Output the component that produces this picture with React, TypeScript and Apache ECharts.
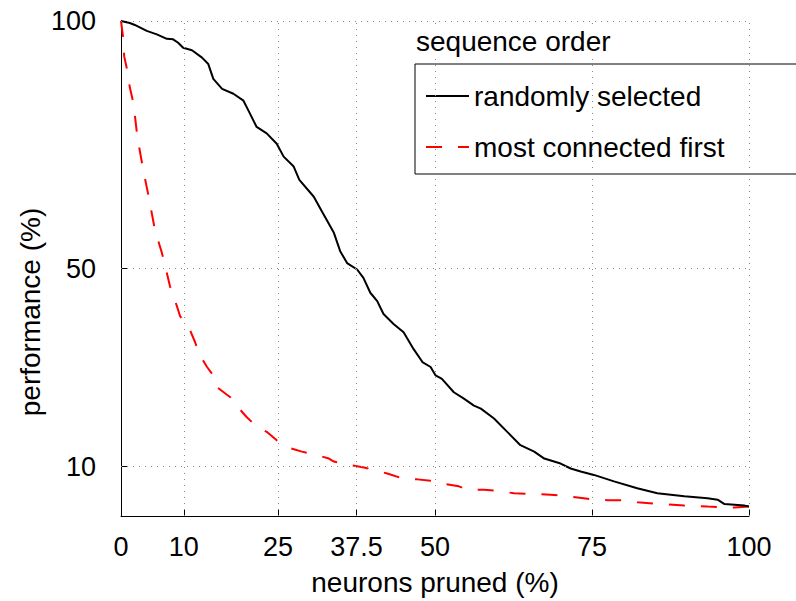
import React, { useEffect, useRef } from "react";
import * as echarts from "echarts";

const xTicks = [0, 10, 25, 37.5, 50, 75, 100];
const yTicks = [10, 50, 100];
const xGrid = [10, 25, 37.5, 50, 75, 100];
const yGrid = [10, 50, 100];

const seriesNames = ["randomly selected", "most connected first"];
const legendTitle = "sequence order";
const xName = "neurons pruned (%)";
const yName = "performance (%)";

const randomlySelected: [number, number][] = [
  [0, 100], [1.4, 99.6], [2.2, 99.2], [4.1, 98.0], [5.7, 97.3], [7.3, 96.4], [8.3, 96.3],
  [9.1, 95.6], [9.9, 94.6], [11.3, 94.1], [12.9, 92.6], [13.9, 91.3], [14.7, 88.3],
  [16.1, 86.3], [17.9, 85.3], [19.5, 83.9], [20.3, 81.9], [21.6, 78.6], [23.2, 77.3],
  [24.8, 75.2], [25.9, 72.6], [27.5, 70.6], [28.4, 67.9], [30.7, 64.5], [32.0, 61.5],
  [33.9, 57.2], [34.9, 53.5], [36.0, 51.1], [37.6, 49.8], [38.6, 48.1], [39.7, 45.1],
  [40.8, 43.4], [41.8, 40.8], [43.4, 38.8], [45.0, 37.1], [46.6, 33.7], [48.0, 31.1],
  [49.3, 30.1], [50.1, 28.4], [51.1, 27.7], [53.0, 25.0], [54.6, 23.7], [56.2, 22.3],
  [57.3, 21.7], [59.4, 19.7], [61.5, 17.0], [63.6, 14.3], [65.8, 13.0], [67.4, 11.6],
  [70.0, 10.6], [71.6, 9.6], [73.2, 9.0], [75.3, 8.3], [78.5, 7.0], [82.2, 5.6],
  [85.4, 4.6], [89.7, 4.0], [93.4, 3.6], [95.0, 3.3], [96.1, 2.4], [99.3, 2.1], [100, 1.9],
];

const mostConnectedFirst: [number, number][] = [
  [0, 100], [0.4, 96.1], [0.5, 92.9], [1.0, 90.0], [1.4, 86.6], [2.0, 83.3], [2.6, 76.6],
  [3.5, 70.2], [4.5, 63.9], [5.4, 57.8], [6.5, 53.2], [7.3, 49.1], [7.8, 46.4], [8.9, 42.4],
  [9.4, 40.4], [10.7, 38.4], [11.8, 35.1], [12.6, 32.4], [13.7, 30.1], [14.7, 28.4],
  [15.3, 26.0], [17.4, 24.0], [18.4, 22.3], [20.0, 20.0], [21.4, 18.3], [23.2, 17.0],
  [24.8, 15.3], [27.0, 13.7], [28.8, 13.0], [31.5, 12.2], [33.1, 11.6], [33.9, 11.0],
  [36.5, 10.3], [38.7, 9.8], [40.8, 9.1], [42.4, 8.6], [44.8, 7.6], [47.2, 7.4],
  [49.3, 7.1], [50.9, 6.6], [53.8, 6.0], [55.1, 5.3], [57.8, 5.3], [59.6, 5.1],
  [62.6, 4.6], [68.4, 4.3], [71.1, 4.0], [73.7, 3.6], [75.3, 3.3], [77.5, 3.2],
  [79.9, 3.2], [82.2, 2.8], [86.0, 2.4], [89.7, 2.1], [93.4, 1.9], [97.7, 1.7], [100, 1.9],
];

const FONT = "Liberation Sans, Arial, Helvetica, sans-serif";

export default function App() {
  const ref = useRef<HTMLDivElement>(null);
  useEffect(() => {
    if (!ref.current) return;
    const chart = echarts.init(ref.current, undefined, { renderer: "svg" });
    const gridStyle = { color: "#888", width: 1, type: [1, 5] as any };
    chart.setOption({
      animation: false,
      backgroundColor: "#fff",
      textStyle: { fontFamily: FONT, color: "#000" },
      grid: { left: 121, top: 21, right: 47, bottom: 84, containLabel: false },
      title: {
        text: legendTitle,
        left: 414,
        top: 26,
        padding: [1, 2, 1, 2],
        backgroundColor: "#fff",
        textStyle: { fontFamily: FONT, fontSize: 28, fontWeight: "normal", color: "#000" },
      },
      legend: {
        orient: "vertical",
        left: 415,
        top: 64,
        padding: [18, 120, 13, 10],
        itemGap: 23,
        itemWidth: 43,
        itemHeight: 14,
        backgroundColor: "#fff",
        borderColor: "#000",
        borderWidth: 1,
        borderRadius: 0,
        itemStyle: { opacity: 0 },
        textStyle: { fontFamily: FONT, fontSize: 28, color: "#000" },
        data: seriesNames,
      },
      graphic: [
        {
          type: "text",
          x: 30,
          y: 312,
          rotation: Math.PI / 2,
          style: {
            text: yName,
            fontFamily: FONT,
            fontSize: 28,
            fill: "#000",
            textAlign: "center",
            textVerticalAlign: "middle",
          },
        },
      ],
      xAxis: {
        type: "value",
        min: 0,
        max: 100,
        name: xName,
        nameLocation: "middle",
        nameGap: 52,
        nameTextStyle: { fontFamily: FONT, fontSize: 28, color: "#000" },
        axisLine: { show: true, lineStyle: { color: "#000", width: 1 } },
        axisTick: { show: true, inside: true, length: 6, lineStyle: { color: "#000" }, customValues: xTicks },
        axisLabel: { fontFamily: FONT, fontSize: 27, color: "#000", margin: 17, customValues: xTicks },
        splitLine: { show: false },
      },
      yAxis: {
        type: "value",
        min: 0,
        max: 100,
        axisLine: { show: true, lineStyle: { color: "#000", width: 1 } },
        axisTick: { show: true, inside: true, length: 6, lineStyle: { color: "#000" }, customValues: yTicks },
        axisLabel: { fontFamily: FONT, fontSize: 27, color: "#000", margin: 25, customValues: yTicks },
        splitLine: { show: false },
      },
      series: [
        {
          name: "grid",
          type: "line",
          data: [],
          z: 1,
          silent: true,
          markLine: {
            silent: true,
            symbol: ["none", "none"],
            label: { show: false },
            lineStyle: gridStyle,
            emphasis: { disabled: true },
            data: [
              ...xGrid.map((v) => ({ xAxis: v })),
              ...yGrid.map((v) => ({ yAxis: v })),
            ],
          },
        },
        {
          name: seriesNames[0],
          type: "line",
          data: randomlySelected,
          showSymbol: false,
          symbol: "none",
          lineStyle: { color: "#000", width: 2 },
          itemStyle: { color: "#000" },
          z: 3,
        },
        {
          name: seriesNames[1],
          type: "line",
          data: mostConnectedFirst,
          showSymbol: false,
          symbol: "none",
          lineStyle: { color: "#ff0000", width: 2, type: [16, 16] },
          itemStyle: { color: "#ff0000" },
          z: 2,
        },
      ],
    });
    return () => chart.dispose();
  }, []);
  return <div ref={ref} style={{ width: 796, height: 601, position: "absolute", left: 0, top: 0 }} />;
}
